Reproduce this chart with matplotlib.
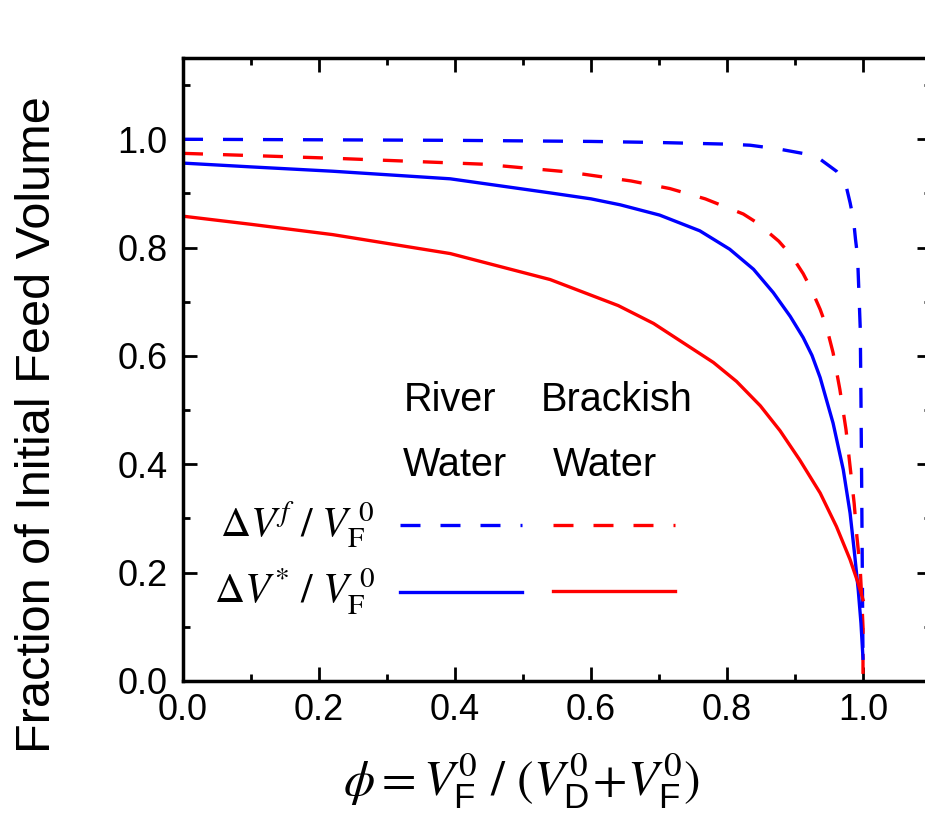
import matplotlib
matplotlib.use("Agg")
import matplotlib.pyplot as plt
from matplotlib.ticker import MultipleLocator

plt.rcParams['font.family'] = ['Liberation Sans', 'DejaVu Sans']
plt.rcParams['mathtext.fontset'] = 'custom'
plt.rcParams['mathtext.rm'] = 'STIXGeneral'
plt.rcParams['mathtext.it'] = 'STIXGeneral:italic'
plt.rcParams['mathtext.bf'] = 'STIXGeneral:bold'
plt.rcParams['mathtext.sf'] = 'Liberation Sans'

# River water, dVf / VF0 (dashed blue)
river_vf_x = [0.0, 0.2, 0.4, 0.6, 0.7, 0.8, 0.834, 0.876, 0.898, 0.911, 0.935, 0.961,
              0.974, 0.981, 0.986, 0.989, 0.992, 0.994, 0.996, 0.997, 0.998, 0.999, 1.0]
river_vf_y = [1.000, 0.999, 0.998, 0.996, 0.994, 0.991, 0.989, 0.982, 0.977, 0.974, 0.965, 0.941,
              0.920, 0.883, 0.852, 0.815, 0.784, 0.717, 0.649, 0.52, 0.37, 0.2, 0.04]

# River water, dV* / VF0 (solid blue)
river_vs_x = [0.0, 0.1, 0.22, 0.393, 0.54, 0.6, 0.643, 0.701, 0.760, 0.804, 0.839, 0.868,
              0.893, 0.912, 0.925, 0.937, 0.956, 0.971, 0.981, 0.988, 0.993, 0.997, 1.0]
river_vs_y = [0.956, 0.949, 0.941, 0.927, 0.901, 0.890, 0.879, 0.860, 0.831, 0.797, 0.760, 0.717,
              0.673, 0.634, 0.601, 0.560, 0.476, 0.390, 0.310, 0.230, 0.168, 0.107, 0.042]

# Brackish water, dVf / VF0 (dashed red)
brack_vf_x = [0.0, 0.22, 0.441, 0.564, 0.659, 0.716, 0.768, 0.824, 0.844, 0.876, 0.895,
              0.912, 0.924, 0.937, 0.946, 0.956, 0.966, 0.975, 0.981, 0.987, 0.991,
              0.996, 0.998, 1.0, 1.0]
brack_vf_y = [0.974, 0.965, 0.954, 0.940, 0.923, 0.909, 0.890, 0.862, 0.846, 0.812, 0.785,
              0.752, 0.723, 0.686, 0.655, 0.606, 0.538, 0.464, 0.396, 0.328, 0.267,
              0.205, 0.156, 0.10, 0.0]

# Brackish water, dV* / VF0 (solid red)
brack_vs_x = [0.0, 0.1, 0.22, 0.393, 0.54, 0.64, 0.692, 0.736, 0.78, 0.814, 0.849,
              0.878, 0.907, 0.937, 0.961, 0.981, 0.993, 1.0]
brack_vs_y = [0.858, 0.843, 0.824, 0.789, 0.741, 0.693, 0.660, 0.624, 0.588, 0.553, 0.508,
              0.462, 0.408, 0.347, 0.285, 0.224, 0.180, 0.150]

blue = '#0000FF'
red = '#FF0000'
lw = 2.4
dash = (6, 6)

fig = plt.figure(figsize=(9.25, 8.31), dpi=100)
ax = fig.add_axes([183 / 925, 150 / 831, 748 / 925, 623 / 831])

ax.plot(river_vf_x, river_vf_y, color=blue, lw=lw, dashes=dash)
ax.plot(brack_vf_x, brack_vf_y, color=red, lw=lw, dashes=dash)
ax.plot(river_vs_x, river_vs_y, color=blue, lw=lw)
ax.plot(brack_vs_x, brack_vs_y, color=red, lw=lw)

ax.set_xlim(0, 1.1)
ax.set_ylim(0, 1.15)
ax.xaxis.set_major_locator(MultipleLocator(0.2))
ax.xaxis.set_minor_locator(MultipleLocator(0.1))
ax.yaxis.set_major_locator(MultipleLocator(0.2))
ax.yaxis.set_minor_locator(MultipleLocator(0.1))
ax.xaxis.set_major_formatter(plt.FuncFormatter(lambda v, p: '%.1f' % v))
ax.yaxis.set_major_formatter(plt.FuncFormatter(lambda v, p: '%.1f' % v))
ax.tick_params(which='both', direction='in', top=True, right=True, width=2, labelsize=26)
ax.tick_params(which='major', length=10)
ax.tick_params(which='minor', length=5)
ax.tick_params(axis='x', which='major', pad=9)
ax.tick_params(axis='y', which='major', pad=11)
for s in ax.spines.values():
    s.set_linewidth(2.5)

ax.set_ylabel('Fraction of Initial Feed Volume', fontsize=35)
ax.yaxis.set_label_coords(-0.164, 0.411)
ax.set_xlabel(r'$\phi = V_{\mathsf{F}}^{0}\ /\ (V_{\mathsf{D}}^{0}\!+\!V_{\mathsf{F}}^{0})$',
              fontsize=36)
ax.xaxis.set_label_coords(0.453, -0.114)

# hand-made legend
ax.text(0.324, 0.519, 'River', fontsize=28.5, va='center', ha='left')
ax.text(0.324, 0.399, 'Water', fontsize=28.5, va='center', ha='left')
ax.text(0.526, 0.519, 'Brackish', fontsize=28.5, va='center', ha='left')
ax.text(0.544, 0.399, 'Water', fontsize=28.5, va='center', ha='left')
ax.text(0.282, 0.288, r'$\Delta V^{f}\ /\ V_{\mathrm{F}}^{\ 0}$', fontsize=30,
        va='center', ha='right')
ax.text(0.282, 0.165, r'$\Delta V^{*}\ /\ V_{\mathrm{F}}^{\ 0}$', fontsize=30,
        va='center', ha='right')
ax.plot([0.319, 0.499], [0.288, 0.288], color=blue, lw=lw, dashes=dash)
ax.plot([0.544, 0.724], [0.288, 0.288], color=red, lw=lw, dashes=dash)
ax.plot([0.319, 0.499], [0.165, 0.165], color=blue, lw=lw)
ax.plot([0.544, 0.724], [0.167, 0.167], color=red, lw=lw)

fig.savefig('out.png', dpi=100)
